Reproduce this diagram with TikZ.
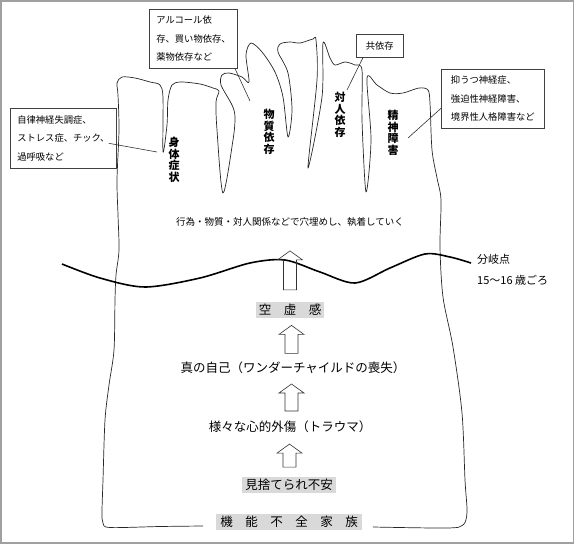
\documentclass[tikz,border=0pt]{standalone}
\usepackage{fontspec}
\setmainfont{Noto Sans CJK JP}
\usetikzlibrary{positioning,calc}
\definecolor{framegray}{RGB}{160,160,160}
\definecolor{shadegray}{RGB}{217,217,217}
\tikzset{
  rim/.style={line width=0.7pt, line join=round, black!85},
  fault/.style={line width=1.6pt, black},
  callout/.style={draw=black!75, line width=0.6pt, anchor=north west, align=left,
                  inner xsep=7pt, inner ysep=0pt, font=\fontsize{9.3}{18.5}\selectfont},
  leader/.style={line width=0.6pt, black!80},
  vlbl/.style={font=\bfseries\fontsize{11}{11.6}\selectfont, align=center, inner sep=0pt},
  stage/.style={font=\fontsize{12.5}{14}\selectfont, inner sep=1pt},
  shade/.style={stage, fill=shadegray, inner xsep=3pt, inner ysep=2pt},
  note/.style={font=\fontsize{9.5}{12}\selectfont, inner sep=1pt},
  side/.style={font=\fontsize{11}{21}\selectfont, align=left, anchor=west, inner sep=0pt},
  blockarr/.style={line width=0.6pt, black!80},
  pics/hollowup/.style={code={
    \draw[blockarr] (-6.5,#1/2) -- (-6.5,-#1/2+9) -- (-12.5,-#1/2+9) -- (0,-#1/2)
      -- (12.5,-#1/2+9) -- (6.5,-#1/2+9) -- (6.5,#1/2) -- cycle;}}
}

\begin{document}
\begin{tikzpicture}[x=1pt, y=-1pt]
\useasboundingbox (0,0) rectangle (576,544);
\draw[framegray, line width=1.5pt] (0.75,0.75) rectangle (573.5,542.8);

% the vessel, open at the bottom for the family label
\draw[rim] plot[smooth, tension=0.5] coordinates {
  (203,526) (160,526.5) (110,527.5) (103,523) (102,512) (103,480) (105,420)
  (109,385) (114,350) (115,300) (116,275) (119,250) (118,215) (117,180)
  (119,130) (118,95) (117,83) (122,77) (135,78) (150,82) (160,85) (163,98)
  (163,152) (167,125) (168,100) (172,85) (181,82) (200,84) (213,88) (219,91)
  (216,102) (217,130) (223,193) (233,140) (235,117) (232,105) (221,85)
  (222,75) (229,73) (242,77) (249,82) (246,55) (251,43) (262,52) (275,72)
  (283,97) (288,137) (292,110) (288,73) (278,52) (280,44) (290,42) (300,43)
  (313,39) (316,40) (317,80) (308,168) (322,97) (323,43) (330,58) (335,65)
  (345,62) (355,65) (362,70) (362,120) (366,192) (371,140) (367,78) (377,85)
  (390,93) (403,93) (419,88) (428,90) (430,103) (432,150) (437,178) (441,200)
  (440,247) (443,297) (453,347) (462,413) (465,480) (467,512) (463,525)
  (447,528) (373,527)};

% branching line
\draw[fault] plot[smooth] coordinates {
  (62,264) (100,278) (145,287) (200,278) (250,263) (285,260) (320,272)
  (355,283) (390,268) (425,254) (450,257) (471,263)};
\node[side] (bunki) at (477,269.5) {分岐点\\15～16 歳ごろ};

% labels of the spikes
\node[vlbl] (shintai) at (174,160) {身\\体\\症\\状};
\node[vlbl] (busshitsu) at (269,132) {物\\質\\依\\存};
\node[vlbl] (taijin) at (340,115) {対\\人\\依\\存};
\node[vlbl] (seishin) at (393,133) {精\\神\\障\\害};

% the chain from the bottom up
\node[note] (koui) at (290,222) {行為・物質・対人関係などで穴埋めし、執着していく};
\node[shade] (kuu) at (290,310) {空\hspace{1em}虚\hspace{1em}感};
\node[stage] (shin) at (293,368) {真の自己（ワンダーチャイルドの喪失）};
\node[stage] (trauma) at (290,427) {様々な心的外傷（トラウマ）};
\node[shade] (mise) at (289,485) {見捨てられ不安};
\node[shade, inner xsep=4pt] (kazoku) at (289,522)
  {機\hspace{1em}能\hspace{1em}不\hspace{1em}全\hspace{1em}家\hspace{1em}族};

\pic at ($(koui.south)!0.575!(kuu.north)$) {hollowup=39};
\pic at ($(kuu.south)!0.5!(shin.north)$) {hollowup=28};
\pic at ($(shin.south)!0.5!(trauma.north)$) {hollowup=27};
\pic at ($(trauma.south)!0.5!(mise.north)$) {hollowup=23};

% call-outs
\node[callout, minimum width=103pt, minimum height=60pt] (jiritsu) at (10,108)
  {自律神経失調症、\\ストレス症、チック、\\過呼吸など};
\node[callout, minimum width=84pt, minimum height=59pt] (izon) at (149,9)
  {アルコール依\\存、買い物依存、\\薬物依存など};
\node[callout, minimum width=47pt, minimum height=23pt] (kyou) at (356,34) {共依存};
\node[callout, minimum width=103pt, minimum height=59pt] (yokuutsu) at (441,69)
  {抑うつ神経症、\\強迫性神経障害、\\境界性人格障害など};

\coordinate (t1) at (157,152);
\coordinate (t2) at (250,101);
\coordinate (t3) at (347,90);
\coordinate (t4) at (408,138);
\draw[leader] ([xshift=-8pt,yshift=-5pt]jiritsu.east) -- (t1);
\draw[leader] ([xshift=-3pt]izon.south east) -- (t2);
\draw[leader] ([xshift=7pt]kyou.south west) -- (t3);
\draw[leader] ([yshift=-9.5pt]yokuutsu.west) -- (t4);
\end{tikzpicture}
\end{document}
